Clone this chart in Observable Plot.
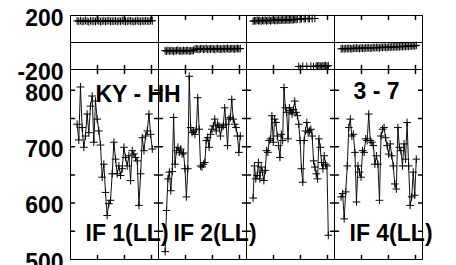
<!DOCTYPE html>
<html><head><meta charset="utf-8">
<script src="https://cdn.jsdelivr.net/npm/d3@7"></script>
<script src="https://cdn.jsdelivr.net/npm/@observablehq/plot@0.6"></script>
<style>
body{margin:0;background:#fff;}
#wrap{position:relative;width:456px;height:265px;overflow:hidden;background:#fff;}
#wrap svg{position:absolute;left:0;}
</style></head><body><div id="wrap"></div>
<script>
// ---- data ----
const panels = ["IF 1", "IF 2", "IF 3", "IF 4"];
const ifLabels = ["IF 1(LL)", "IF 2(LL)", null, "IF 4(LL)"];
const tStart = 0.245, tEnd = 3.03;   // sampling window (days) within each panel
const xDomain = [0, 3.26];
const xTicks = [1, 2, 3];
const ampDomain = [500, 837];
const ampTicks = [550, 600, 650, 700, 750, 800];
const ampLabels = [500, 600, 700, 800];
const phaseDomain = [-200, 200];
const phaseLabels = [-200, 200];

const amp1 = [740,712,806,734,699,719,758,725,772,790,708,781,749,728,703,646,669,619,578,599,605,652,708,678,652,666,649,661,699,681,666,684,640,693,687,681,675,596,652,716,693,719,728,758,722,696];
const amp2 = [514,587,643,655,622,656,752,669,693,699,690,696,687,689,661,611,661,825,734,725,728,722,731,787,731,666,664,669,672,711,716,699,722,731,737,749,728,740,737,719,734,737,769,740,702,749,752,784,749,740,734,719,690,719];
const amp3 = [609,666,643,649,672,643,664,655,640,658,693,690,711,714,755,708,749,743,719,702,681,722,711,805,769,761,714,769,764,758,766,781,761,755,740,711,661,637,711,728,743,725,728,731,719,675,664,652,643,714,699,672,661,684,669,666,543];
const amp4 = [611,617,572,620,666,734,749,719,722,690,602,666,655,646,693,690,714,711,758,711,708,702,669,684,669,605,719,731,734,716,702,687,705,684,666,634,625,734,699,693,666,705,678,743,666,596,611,655,614,678];

const phase1 = [160,157,162,155,159,163,158,154,161,157,160,156,163,159,155,158,161,157,160,162,156,159,158,161,155,160,157,163,159,156,158,161,160,157,155,159,162,158,156,160,157,161,159,158,162,160];
const phase2 = [-60,-64,-58,-63,-61,-59,-65,-62,-60,-57,-63,-61,-64,-59,-62,-60,-58,-63,-61,-60,-59,-50,-46,-49,-52,-47,-45,-50,-48,-44,-51,-47,-49,-45,-48,-52,-46,-44,-49,-47,-50,-45,-48,-46,-43,-49,-47,-44,-46,-48,-45,-43,-47,-45];
const phase3 = [158,162,160,165,161,163,159,164,162,166,160,163,165,161,164,167,162,165,163,168,164,166,169,165,167,170,166,168,171,167,169,172,170,174,-178,172,176,-176,175,178,-177,176,179,-175,177,-178,178,-174,-176,-172,-175,-177,-173,-174,-171,-175,-172];
const phase4 = [-47,-45,-48,-44,-46,-43,-45,-47,-42,-44,-41,-43,-45,-40,-42,-44,-39,-41,-38,-42,-40,-37,-39,-36,-38,-40,-35,-37,-34,-36,-38,-33,-35,-32,-34,-31,-33,-30,-32,-29,-31,-28,-30,-26,-29,-25,-27,-23,-25,-21];

// ---- tables ----
function series(panel, values) {
  const n = values.length;
  return values.map((v, i) => ({panel, t: tStart + (tEnd - tStart) * i / (n - 1), v}));
}
const ampRows = [amp1, amp2, amp3, amp4].flatMap((a, k) => series(panels[k], a));
const phaseRows = [phase1, phase2, phase3, phase4].flatMap((a, k) => series(panels[k], a));
const ifRows = panels.map((p, k) => ({panel: p, label: ifLabels[k]})).filter(d => d.label);
const topLeftRows = [{panel: panels[0], label: "KY - HH"}];
const topRightRows = [{panel: panels[3], label: "3 - 7"}];

// ---- helpers ----
const tickShape = {draw(ctx, l) { ctx.moveTo(0, 0); ctx.lineTo(0, -l); }};
const font = {fontFamily: "'Liberation Sans', Arial, sans-serif", fontSize: "23px", fontWeight: "bold",
  overflow: "visible", background: "transparent", color: "black"};
const fmt = d => String(d);
function xTickMarks() {
  return [
    Plot.vector(xTicks, {x: d => d, frameAnchor: "bottom", rotate: 0, length: 4, anchor: "start", shape: tickShape, stroke: "black"}),
    Plot.vector(xTicks, {x: d => d, frameAnchor: "top", rotate: 180, length: 4, anchor: "start", shape: tickShape, stroke: "black"})
  ];
}

// ---- amplitude (bottom) ----
const ampChart = Plot.plot({
  width: 456, height: 196,
  marginLeft: 69, marginRight: 34, marginTop: 0, marginBottom: 6,
  style: font,
  fx: {domain: panels, padding: 0, axis: null},
  x: {domain: xDomain, axis: null},
  y: {domain: ampDomain},
  marks: [
    Plot.frame({stroke: "black", strokeWidth: 1}),
    ...xTickMarks(),
    Plot.vector(ampTicks, {y: d => d, frameAnchor: "left", rotate: 90, length: 4, anchor: "start", shape: tickShape, stroke: "black"}),
    Plot.vector(ampTicks, {y: d => d, frameAnchor: "right", rotate: -90, length: 4, anchor: "start", shape: tickShape, stroke: "black"}),
    Plot.axisY(ampLabels, {tickSize: 0, tickPadding: 7, dy: 3, label: null, fill: "black", tickFormat: fmt}),
    Plot.line(ampRows, {x: "t", y: "v", fx: "panel", stroke: "#111", strokeWidth: 1}),
    Plot.dot(ampRows, {x: "t", y: "v", fx: "panel", symbol: "plus", r: 2.6, stroke: "black", strokeWidth: 1}),
    Plot.text(topLeftRows, {fx: "panel", text: "label", frameAnchor: "top-left", textAnchor: "start", lineAnchor: "middle", dx: 25, dy: 25, fill: "black"}),
    Plot.text(topRightRows, {fx: "panel", text: "label", frameAnchor: "top-left", textAnchor: "start", lineAnchor: "middle", dx: 19, dy: 22, fill: "black"}),
    Plot.text(ifRows, {fx: "panel", text: "label", frameAnchor: "bottom-left", textAnchor: "start", lineAnchor: "middle", dx: 15, dy: -26, fill: "black"})
  ]
});
ampChart.style.top = "69px";

// ---- phase (top) ----
const phaseChart = Plot.plot({
  width: 456, height: 80,
  marginLeft: 69, marginRight: 34, marginTop: 15, marginBottom: 11,
  style: font,
  fx: {domain: panels, padding: 0, axis: null},
  x: {domain: xDomain, axis: null},
  y: {domain: phaseDomain},
  marks: [
    Plot.frame({stroke: "black", strokeWidth: 1}),
    Plot.ruleY([0], {stroke: "black", strokeWidth: 1}),
    ...xTickMarks(),
    Plot.axisY(phaseLabels, {tickSize: 0, tickPadding: 7, dy: 3, label: null, fill: "black", tickFormat: fmt}),
    Plot.dot(phaseRows, {x: "t", y: "v", fx: "panel", symbol: "plus", r: 2.6, stroke: "black", strokeWidth: 1})
  ]
});
phaseChart.style.top = "0px";

const wrap = document.getElementById("wrap");
wrap.appendChild(ampChart);
wrap.appendChild(phaseChart);
</script></body></html>
